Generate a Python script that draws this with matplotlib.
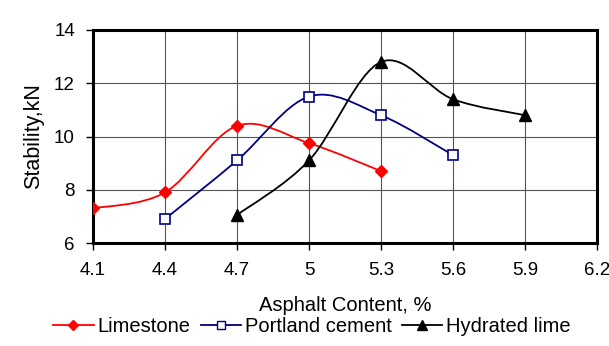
import matplotlib
matplotlib.use("Agg")
import matplotlib.pyplot as plt
import numpy as np
from matplotlib.path import Path
from matplotlib.patches import PathPatch

plt.rcParams['font.family'] = ['Liberation Sans', 'DejaVu Sans']

lime_x = [4.1, 4.4, 4.7, 5.0, 5.3]
lime_y = [7.3, 7.9, 10.4, 9.75, 8.7]
port_x = [4.4, 4.7, 5.0, 5.3, 5.6]
port_y = [6.9, 9.1, 11.5, 10.8, 9.3]
hyd_x = [4.7, 5.0, 5.3, 5.6, 5.9]
hyd_y = [7.05, 9.1, 12.8, 11.4, 10.8]
xticks = [4.1, 4.4, 4.7, 5.0, 5.3, 5.6, 5.9, 6.2]
xticklabels = ["4.1", "4.4", "4.7", "5", "5.3", "5.6", "5.9", "6.2"]
yticks = [6, 8, 10, 12, 14]


def smooth(ax, xs, ys, color):
    P = np.column_stack([xs, ys]).astype(float)
    n = len(P)
    verts = [P[0]]
    codes = [Path.MOVETO]
    for i in range(n - 1):
        p0 = P[i - 1] if i > 0 else P[i]
        p1 = P[i]
        p2 = P[i + 1]
        p3 = P[i + 2] if i + 2 < n else P[i + 1]
        c1 = p1 + (p2 - p0) / 6.0
        c2 = p2 - (p3 - p1) / 6.0
        verts += [c1, c2, p2]
        codes += [Path.CURVE4] * 3
    ax.add_patch(PathPatch(Path(verts, codes), facecolor='none',
                           edgecolor=color, lw=1.3, zorder=3))


fig = plt.figure(figsize=(6.09, 3.46), dpi=100)
ax = fig.add_axes([93 / 609, 103 / 346, 504 / 609, 213 / 346])

smooth(ax, lime_x, lime_y, '#FF0000')
smooth(ax, port_x, port_y, '#000080')
smooth(ax, hyd_x, hyd_y, '#000000')

ax.plot(lime_x, lime_y, ls='none', marker='D', ms=6, color='#FF0000', zorder=4)
ax.plot(port_x, port_y, ls='none', marker='s', ms=7, mfc='white',
        mec='#000080', mew=1.2, zorder=4)
ax.plot(hyd_x, hyd_y, ls='none', marker='^', ms=8, color='#000000', zorder=4)

h1, = ax.plot([], [], color='#FF0000', lw=1.3, marker='D', ms=5)
h2, = ax.plot([], [], color='#000080', lw=1.3, marker='s', ms=6, mfc='white', mec='#000080')
h3, = ax.plot([], [], color='#000000', lw=1.3, marker='^', ms=6.5)

ax.set_xlim(4.1, 6.2)
ax.set_ylim(6, 14)
ax.set_xticks(xticks)
ax.set_xticklabels(xticklabels)
ax.set_yticks(yticks)
ax.grid(True, color='#555555', lw=0.8)
ax.set_axisbelow(True)
for s in ax.spines.values():
    s.set_linewidth(2.2)
    s.set_color('black')
ax.tick_params(axis='both', direction='out', length=5, width=1, labelsize=13.5)
ax.tick_params(axis='x', pad=9)
ax.tick_params(axis='y', pad=8)
ax.set_xlabel('Asphalt Content, %', fontsize=14.5, labelpad=12)
ax.set_ylabel('Stability,kN', fontsize=15.5, labelpad=7)

fig.legend([h1, h2, h3], ['Limestone', 'Portland cement', 'Hydrated lime'],
           loc='center', bbox_to_anchor=(312 / 609, 1 - 327 / 346), ncol=3, frameon=False,
           fontsize=14.5, handlelength=2.0, handletextpad=0.2, columnspacing=0.5,
           borderpad=0, borderaxespad=0)

fig.savefig('out.png', dpi=100)
